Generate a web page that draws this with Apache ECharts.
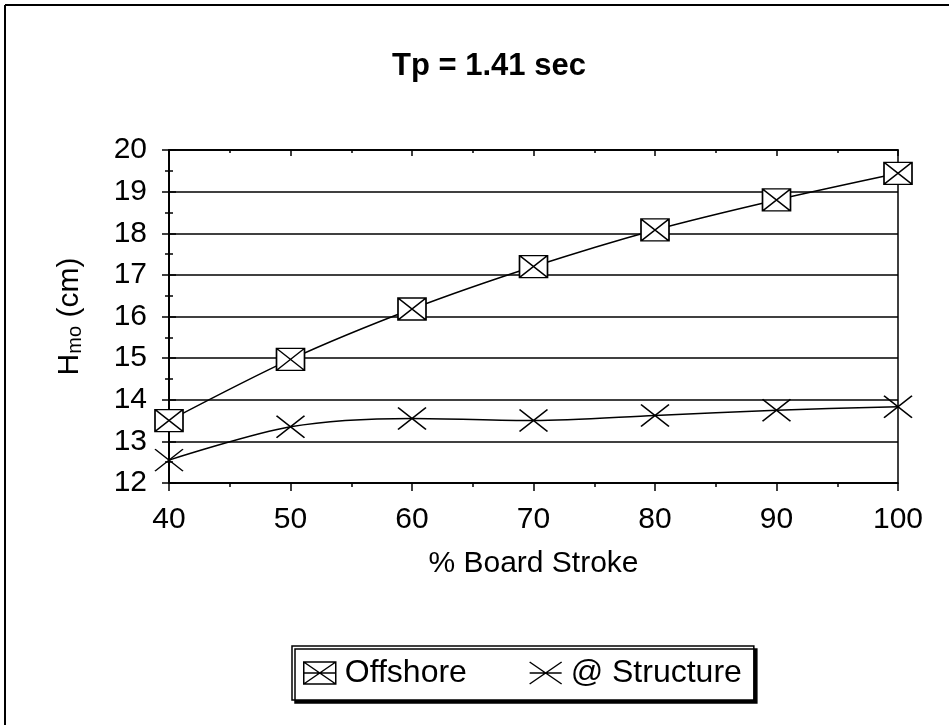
<!DOCTYPE html>
<html>
<head>
<meta charset="utf-8">
<script src="https://cdn.jsdelivr.net/npm/echarts@6/dist/echarts.min.js"></script>
<style>
  html, body { margin: 0; padding: 0; background: #fff; }
  #chart { width: 949px; height: 725px; }
</style>
</head>
<body>
<div id="chart"></div>
<script>
// board stroke (%) on x
const strokes = [40, 50, 60, 70, 80, 90, 100];
// Hmo (cm)
const offshore = [13.5, 14.97, 16.18, 17.2, 18.08, 18.8, 19.44];
const atStructure = [12.55, 13.35, 13.55, 13.5, 13.62, 13.75, 13.83];
const seriesNames = ["Offshore", "@ Structure"];

const FONT = "Liberation Sans, Arial, sans-serif";
const boxX = "path://M0,0H28V22H0Z M0,0L28,22 M28,0L0,22";
const cross = "path://M0,0L28,22 M28,0L0,22";

const chart = echarts.init(document.getElementById("chart"));

let toPairs = (xs, ys) => xs.map((x, i) => [x, ys[i]]);

// second axis of each pair only draws the inner half of the ticks
let xAxisBase = {
  type: "value", min: 40, max: 100, interval: 10,
  axisLine: { lineStyle: { color: "#000", width: 1.5 } },
  splitLine: { show: false }
};
let yAxisBase = {
  type: "value", min: 12, max: 20, interval: 1, position: "left",
  axisLine: { show: true, lineStyle: { color: "#000", width: 1.5 } }
};

const option = {
  backgroundColor: "#fff",
  animation: false,
  title: {
    text: "Tp = 1.41 sec",
    left: 484, top: 46, textAlign: "center",
    textStyle: { fontFamily: FONT, fontSize: 31, fontWeight: "bold", color: "#000" }
  },
  grid: { left: 169, right: 51, top: 150, bottom: 242, show: true, borderColor: "#000", borderWidth: 1.5 },
  legend: {
    left: 292, top: 646,
    padding: [11, 12, 11, 11],
    itemGap: 62,
    itemWidth: 32, itemHeight: 22,
    borderColor: "#000", borderWidth: 1.5,
    backgroundColor: "#fff",
    shadowColor: "#000", shadowOffsetX: 3, shadowOffsetY: 3, shadowBlur: 0,
    textStyle: { fontFamily: FONT, fontSize: 32, color: "#000", padding: [0, 0, 0, 4] },
    data: [
      { name: seriesNames[0], icon: "path://M0,0H32V22H0Z M0,0L32,22 M32,0L0,22 M0,11H32",
        itemStyle: { color: "#fff", borderColor: "#000", borderWidth: 1.5 } },
      { name: seriesNames[1], icon: "path://M0,0L32,22 M32,0L0,22 M0,11H32",
        itemStyle: { color: "transparent", borderColor: "#000", borderWidth: 1.5 } }
    ]
  },
  xAxis: [
    Object.assign({}, xAxisBase, {
      name: "% Board Stroke",
      nameLocation: "middle",
      nameGap: 66,
      nameTextStyle: { fontFamily: FONT, fontSize: 30, color: "#000" },
      axisTick: { show: true, length: 8, lineStyle: { color: "#000", width: 1.5 } },
      minorTick: { show: true, splitNumber: 2, length: 4, lineStyle: { color: "#000", width: 1.5 } },
      axisLabel: { fontFamily: FONT, fontSize: 30, color: "#000", margin: 22 }
    }),
    Object.assign({}, xAxisBase, {
      axisTick: { show: true, inside: true, length: 6, lineStyle: { color: "#000", width: 1.5 } },
      minorTick: { show: true, splitNumber: 2, length: 3, lineStyle: { color: "#000", width: 1.5 } },
      axisLabel: { show: false }
    })
  ],
  yAxis: [
    Object.assign({}, yAxisBase, {
      name: "{a|H}{b|mo}{a| (cm)}",
      nameLocation: "middle",
      nameGap: 84,
      nameTextStyle: {
        rich: {
          a: { fontFamily: FONT, fontSize: 30, color: "#000" },
          b: { fontFamily: FONT, fontSize: 20, color: "#000", padding: [10, 0, 0, 0] }
        }
      },
      axisTick: { show: true, length: 7, lineStyle: { color: "#000", width: 1.5 } },
      minorTick: { show: true, splitNumber: 2, length: 4, lineStyle: { color: "#000", width: 1.5 } },
      axisLabel: { fontFamily: FONT, fontSize: 30, color: "#000", margin: 22 },
      splitLine: { show: true, lineStyle: { color: "#000", width: 1.5 } }
    }),
    Object.assign({}, yAxisBase, {
      offset: 0,
      axisTick: { show: true, inside: true, length: 7, lineStyle: { color: "#000", width: 1.5 } },
      minorTick: { show: true, splitNumber: 2, length: 4, lineStyle: { color: "#000", width: 1.5 } },
      axisLabel: { show: false },
      splitLine: { show: false }
    })
  ],
  graphic: [
    { type: "line", shape: { x1: 5, y1: 5, x2: 949, y2: 5 }, style: { stroke: "#000", lineWidth: 2 } },
    { type: "line", shape: { x1: 5, y1: 5, x2: 5, y2: 725 }, style: { stroke: "#000", lineWidth: 2 } }
  ],
  series: [
    {
      name: seriesNames[0],
      type: "line",
      data: toPairs(strokes, offshore),
      smooth: 0.3,
      symbol: boxX,
      symbolSize: [28, 22],
      lineStyle: { color: "#000", width: 1.5 },
      itemStyle: { color: "#fff", borderColor: "#000", borderWidth: 1.5 },
      z: 3
    },
    {
      name: seriesNames[1],
      type: "line",
      data: toPairs(strokes, atStructure),
      smooth: 0.3,
      symbol: cross,
      symbolSize: [28, 22],
      lineStyle: { color: "#000", width: 1.5 },
      itemStyle: { color: "transparent", borderColor: "#000", borderWidth: 1.5 },
      z: 3
    }
  ]
};

chart.setOption(option);
</script>
</body>
</html>
